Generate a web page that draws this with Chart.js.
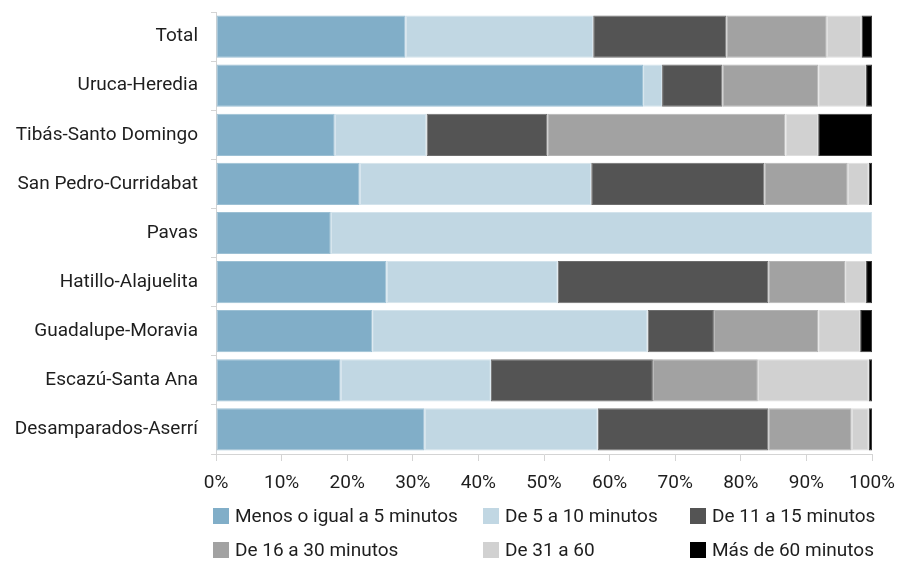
<!DOCTYPE html>
<html lang="es">
<head>
<meta charset="utf-8">
<title>Tiempo de traslado por zona</title>
<script src="https://cdn.jsdelivr.net/npm/chart.js@4/dist/chart.umd.min.js"></script>
<style>
  html, body { margin: 0; padding: 0; background: #ffffff; }
  #wrap { position: relative; width: 914px; height: 561px; }
</style>
</head>
<body>
<div id="wrap"><canvas id="chart" width="914" height="561"></canvas></div>
<script>
// Zonas (de arriba hacia abajo)
const categories = [
  'Total', 'Uruca-Heredia', 'Tibás-Santo Domingo', 'San Pedro-Curridabat',
  'Pavas', 'Hatillo-Alajuelita', 'Guadalupe-Moravia', 'Escazú-Santa Ana',
  'Desamparados-Aserrí'
];

// Porcentaje de personas por tiempo de traslado
const upTo5     = [28.9, 65.1, 18.1, 21.9, 17.5, 26.0, 23.8, 19.0, 31.8];
const from5to10 = [28.6,  2.9, 14.0, 35.3, 82.5, 26.1, 42.0, 22.9, 26.4];
const from11to15= [20.3,  9.2, 18.4, 26.4,  0.0, 32.1, 10.1, 24.7, 26.0];
const from16to30= [15.3, 14.6, 36.3, 12.7,  0.0, 11.7, 15.9, 16.0, 12.7];
const from31to60= [ 5.3,  7.3,  5.0,  3.2,  0.0,  3.2,  6.4, 16.9,  2.6];
const over60    = [ 1.6,  0.9,  8.2,  0.5,  0.0,  0.9,  1.8,  0.5,  0.5];

const seriesLabels = [
  'Menos o igual a 5 minutos', 'De 5 a 10 minutos', 'De 11 a 15 minutos',
  'De 16 a 30 minutos', 'De 31 a 60', 'Más de 60 minutos'
];
const xTicks = [0, 10, 20, 30, 40, 50, 60, 70, 80, 90, 100];

const colors = ['#81aec8', '#c1d7e3', '#545454', '#a2a2a2', '#d1d1d1', '#000000'];
const edges  = ['#9cc0d4', '#d3e3ec', '#6e6e6e', '#b4b4b4', '#dedede', '#3a3a3a'];
const seriesValues = [upTo5, from5to10, from11to15, from16to30, from31to60, over60];

const FONT = 'Roboto, "Noto Sans", "DejaVu Sans", sans-serif';
const TEXT = '#1e1e1e';

// Leyenda en rejilla de 3 columnas bajo el eje
const gridLegend = {
  id: 'gridLegend',
  afterDraw(chart) {
    const ctx = chart.ctx;
    const cols = [213, 483, 690];
    const rows = [516, 550];
    ctx.save();
    ctx.font = '19px ' + FONT;
    ctx.textBaseline = 'middle';
    ctx.textAlign = 'left';
    chart.data.datasets.forEach((ds, i) => {
      const x = cols[i % 3];
      const y = rows[Math.floor(i / 3)];
      ctx.fillStyle = ds.backgroundColor;
      ctx.fillRect(x, y - 8, 16, 16);
      ctx.fillStyle = TEXT;
      ctx.fillText(ds.label, x + 22, y + 1);
    });
    ctx.restore();
  }
};

new Chart(document.getElementById('chart'), {
  type: 'bar',
  data: {
    labels: categories,
    datasets: seriesLabels.map((label, i) => ({
      label,
      data: seriesValues[i],
      backgroundColor: colors[i],
      borderColor: edges[i],
      borderWidth: 1,
      borderSkipped: false,
      barPercentage: 0.86,
      categoryPercentage: 1.0
    }))
  },
  options: {
    indexAxis: 'y',
    responsive: false,
    animation: false,
    devicePixelRatio: 1,
    layout: { padding: { top: 12, right: 42, bottom: 67, left: 0 } },
    plugins: {
      legend: { display: false },
      tooltip: { enabled: false }
    },
    scales: {
      x: {
        stacked: true,
        min: 0,
        max: 100,
        afterBuildTicks(scale) { scale.ticks = xTicks.map(v => ({ value: v })); },
        afterFit(scale) {
          scale.height = 40;
          scale.paddingLeft = 0;
          scale.paddingRight = 0;
        },
        border: { color: '#d4d4d4', width: 1 },
        grid: { drawOnChartArea: false, drawTicks: true, tickLength: 7, color: '#d4d4d4' },
        ticks: {
          color: TEXT,
          font: { family: FONT, size: 19 },
          padding: 11,
          maxRotation: 0,
          callback: v => v + '%'
        }
      },
      y: {
        stacked: true,
        afterFit(scale) {
          scale.width = 216;
          scale.paddingTop = 0;
          scale.paddingBottom = 0;
        },
        border: { color: '#d4d4d4', width: 1 },
        grid: { drawOnChartArea: false, drawTicks: true, tickLength: 5, color: '#d4d4d4', offset: true },
        ticks: {
          color: TEXT,
          font: { family: FONT, size: 19 },
          padding: 13
        }
      }
    }
  },
  plugins: [gridLegend]
});
</script>
</body>
</html>
